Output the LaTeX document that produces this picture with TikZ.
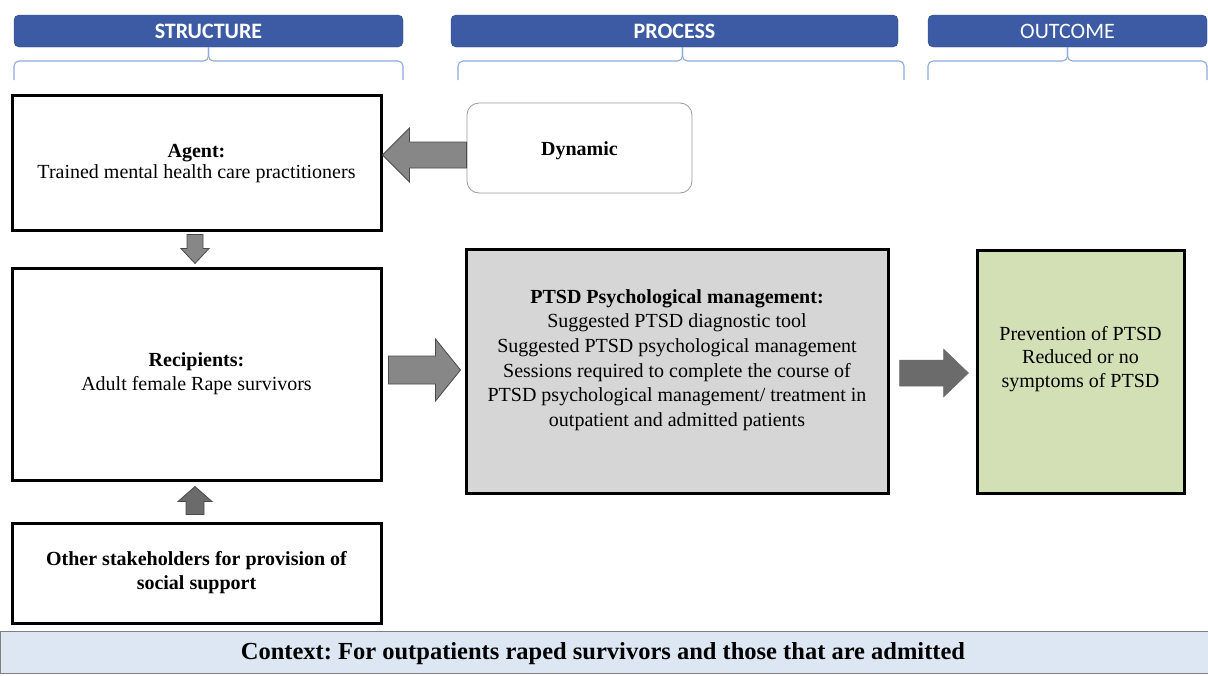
\documentclass[tikz,border=0pt]{standalone}
\usepackage{fontspec}
\setmainfont{Liberation Serif}
\newfontfamily\hdrfont{Carlito}
\usetikzlibrary{calc}
\frenchspacing
\definecolor{hdrblue}{HTML}{3C5BA4}
\definecolor{bracecol}{HTML}{8EA9DB}
\definecolor{ptsdgray}{HTML}{D6D6D6}
\definecolor{outgreen}{HTML}{D3E0B5}
\definecolor{ctxblue}{HTML}{DDE7F4}
\definecolor{arrowgray}{HTML}{878787}
\definecolor{arrowdark}{HTML}{6B6B6B}
\definecolor{arrowedge}{HTML}{4A4A4A}
\definecolor{dynedge}{HTML}{9A9A9A}
\newcommand\blockarrow[6]{%
  \coordinate (ba-n) at ($(#2)!#5!(#1)$);
  \draw[#6] ($(#1)!#3!90:(#2)$) -- ($(ba-n)!#3!90:(#2)$) -- ($(ba-n)!#4!90:(#2)$)
    -- (#2) -- ($(ba-n)!#4!-90:(#2)$) -- ($(ba-n)!#3!-90:(#2)$) -- ($(#1)!#3!-90:(#2)$) -- cycle;
}
\tikzset{
  hdr/.style={fill=hdrblue, draw=hdrblue!80!black, rounded corners=5pt, minimum height=32pt,
    text=white, font=\hdrfont\fontsize{22}{24}\selectfont, inner sep=0pt},
  brace/.style={draw=bracecol, line width=1.1pt, rounded corners=5pt},
  box/.style={draw=black, line width=3pt, align=center, inner sep=0pt,
    font=\fontsize{20}{24}\selectfont},
  txt/.style={align=center, inner sep=0pt, font=\fontsize{20}{24.6}\selectfont},
  arr/.style={fill=arrowgray, draw=arrowedge, line width=0.8pt},
  arrd/.style={fill=arrowdark, draw=arrowdark, line width=0.5pt},
}
\begin{document}
\begin{tikzpicture}[x=1pt, y=-1pt]
\useasboundingbox (0,0) rectangle (1208,675);
% headers
\node[hdr, minimum width=389pt, font=\hdrfont\bfseries\fontsize{22}{24}\selectfont] (hs) at (208.5,31) {STRUCTURE};
\node[hdr, minimum width=447pt, font=\hdrfont\bfseries\fontsize{22}{24}\selectfont] (hp) at (674.5,31) {PROCESS};
\node[hdr, minimum width=279pt] (ho) at (1067.5,31) {OUTCOME};
% braces
\draw[brace] (14,80) -- (14,61) -- (hs.south |- 0,61) -- (hs.south);
\draw[brace] (403,80) -- (403,61) -- (hs.south |- 0,61) -- (hs.south);
\draw[brace] (458,80) -- (458,61) -- ($(hp.south |- 0,61)+(8,0)$) -- ($(hp.south)+(8,0)$);
\draw[brace] (904,80) -- (904,61) -- ($(hp.south |- 0,61)+(8,0)$) -- ($(hp.south)+(8,0)$);
\draw[brace] (928,80) -- (928,61) -- (ho.south |- 0,61) -- (ho.south);
\draw[brace] (1207,80) -- (1207,61) -- (ho.south |- 0,61) -- (ho.south);
% boxes
\node[box, minimum width=369pt, minimum height=135pt] (agent) at (196.5,162.5) {};
\node[txt, font=\fontsize{20}{21}\selectfont] (agenttxt) at (196.5,164)
  {\textbf{Agent:}\\Trained mental health care practitioners};
\node[draw=dynedge, line width=0.8pt, rounded corners=12pt, minimum width=225pt, minimum height=90pt,
  inner sep=0pt, font=\bfseries\fontsize{20}{24}\selectfont] (dyn) at (579.5,148) {};
\node[font=\bfseries\fontsize{20}{24}\selectfont, inner sep=0pt] (dyntxt) at (579.5,151) {Dynamic};
\node[box, minimum width=369pt, minimum height=212pt] (recip) at (196.5,374)
  {\textbf{Recipients:}\\Adult female Rape survivors};
\node[box, minimum width=369pt, minimum height=100pt, font=\bfseries\fontsize{20}{24}\selectfont] (other) at (196.5,573)
  {Other stakeholders for provision of\\social support};
\node[box, fill=ptsdgray, minimum width=422pt, minimum height=244pt] (ptsd) at (677,371) {};
\node[txt] (ptsdtxt) at (677,360) {\textbf{PTSD Psychological management:}\\
  Suggested PTSD diagnostic tool\\
  Suggested PTSD psychological management\\
  Sessions required to complete the course of\\
  PTSD psychological management/ treatment in\\
  outpatient and admitted patients};
\node[box, fill=outgreen, minimum width=207pt, minimum height=243pt] (out) at (1080.5,371.5) {};
\node[txt, font=\fontsize{20}{23.5}\selectfont] (outtxt) at (1080.5,359) {Prevention of PTSD\\Reduced or no\\symptoms of PTSD};
% context
\node[fill=ctxblue, draw=gray, line width=0.8pt, minimum width=1208pt, minimum height=42pt, inner sep=0pt] (ctx) at (604,652.5) {};
\node[font=\bfseries\fontsize{24.5}{28}\selectfont, inner sep=0pt] (ctxtxt) at (603,654)
  {Context: For outpatients raped survivors and those that are admitted};
% arrows
\coordinate (a1s) at ($(dyn.west)+(0,7)$);
\coordinate (a1e) at (agent.east |- a1s);
\blockarrow{a1s}{a1e}{13pt}{27pt}{27pt}{arr}
\coordinate (a2s) at ($(agent.south)+(-1.5,3)$);
\coordinate (a2e) at ($(recip.north)+(-1.5,-3)$);
\blockarrow{a2s}{a2e}{8pt}{14pt}{15pt}{arr}
\coordinate (a3s) at ($(recip.east)+(6,-4)$);
\coordinate (a3e) at ($(ptsd.west |- a3s)+(-4,0)$);
\blockarrow{a3s}{a3e}{14pt}{31pt}{25pt}{arr}
\coordinate (a4s) at ($(ptsd.east)+(10,2)$);
\coordinate (a4e) at ($(out.west |- a4s)+(-7,0)$);
\blockarrow{a4s}{a4e}{13pt}{24pt}{25pt}{arrd}
\coordinate (a5s) at ($(other.north)+(-1.5,-7)$);
\coordinate (a5e) at ($(recip.south)+(-1.5,5)$);
\blockarrow{a5s}{a5e}{9pt}{17pt}{15pt}{fill=arrowdark, draw=arrowedge, line width=0.8pt}
\end{tikzpicture}
\end{document}
